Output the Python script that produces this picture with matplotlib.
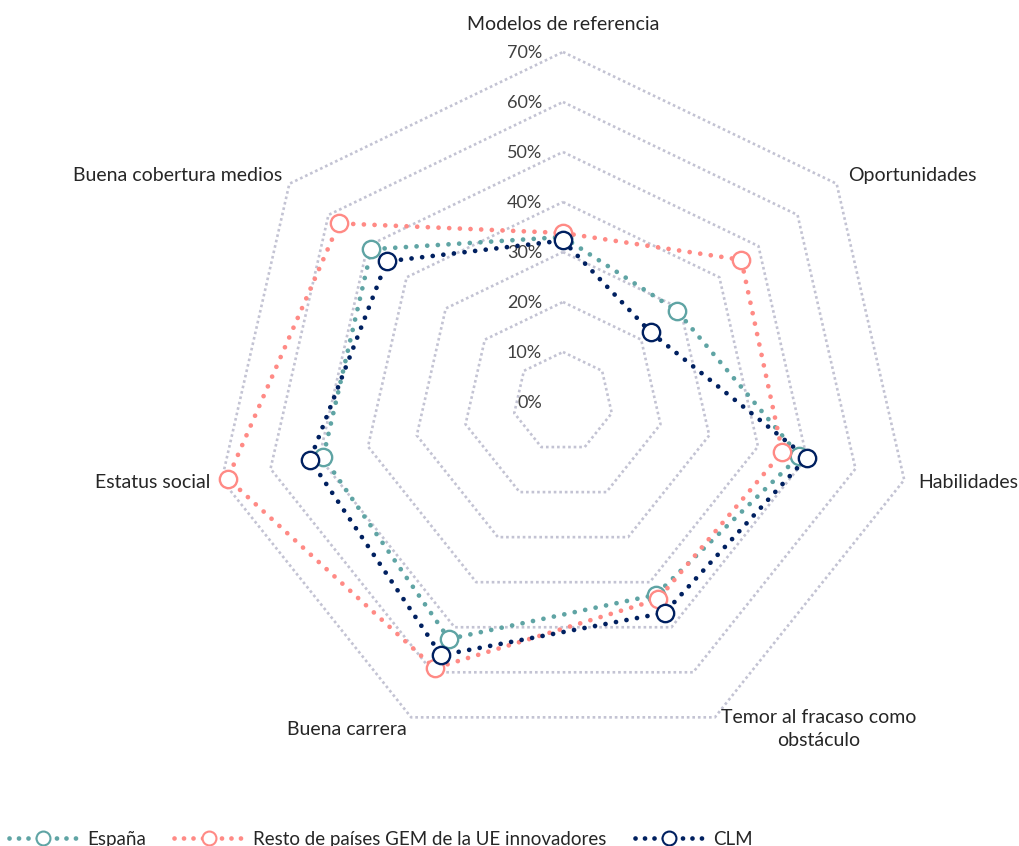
import numpy as np
import matplotlib.pyplot as plt

plt.rcParams['font.family'] = ['Lato', 'DejaVu Sans']

categories = ['Modelos de referencia', 'Oportunidades', 'Habilidades',
              'Temor al fracaso como\nobstáculo', 'Buena carrera',
              'Estatus social', 'Buena cobertura medios']
espana = [33.0, 29.2, 48.5, 42.8, 52.6, 49.2, 49.0]
resto = [33.8, 45.6, 45.0, 43.8, 59.1, 68.8, 57.3]
clm = [32.3, 22.4, 50.0, 46.8, 56.2, 51.9, 45.1]
ring_values = [10, 20, 30, 40, 50, 60, 70]
ring_labels = ['0%', '10%', '20%', '30%', '40%', '50%', '60%', '70%']

n = len(categories)
theta = np.arange(n) * 2 * np.pi / n

def xy(r):
    r = np.asarray(r, dtype=float)
    return r * np.sin(theta), r * np.cos(theta)

W, H = 1019, 846
fig = plt.figure(figsize=(W / 100, H / 100), dpi=100)
ax = fig.add_axes([0, 0, 1, 1])
cx, cy, s = 563, 444, 5.0  # centre in px from bottom-left, px per %
ax.set_xlim(-cx / s, (W - cx) / s)
ax.set_ylim(-cy / s, (H - cy) / s)
ax.axis('off')

grid_col = '#c3c3d3'
for rv in ring_values:
    gx, gy = xy([rv] * n)
    ax.plot(np.append(gx, gx[0]), np.append(gy, gy[0]), color=grid_col,
            lw=1.9, ls=(0, (1, 1.1)), zorder=1)

for i, lab in enumerate(ring_labels):
    ax.text(-4.2, i * 10 - 0.3, lab, ha='right', va='center', fontsize=13,
            color='#404040', zorder=2)

series = [('España', espana, '#5fa4a4'),
          ('Resto de países GEM de la UE innovadores', resto, '#ff8a85'),
          ('CLM', clm, '#002060')]
lw = 3.4
dots = (0, (0.01, 2.25))
handles = []
for name, vals, col in series:
    px, py = xy(vals)
    ax.plot(np.append(px, px[0]), np.append(py, py[0]), color=col, lw=lw,
            ls=dots, dash_capstyle='round', zorder=3)
    ax.plot(px, py, ls='none', color=col, marker='o', ms=12.5, mfc='white',
            mec=col, mew=1.7, zorder=4)
    lh, = ax.plot([], [], color=col, lw=lw, ls=(0, (0.01, 2.0)),
                  dash_capstyle='round', marker='o', ms=10, mfc='white',
                  mec=col, mew=1.5)
    handles.append((lh, name))

# category labels placed just outside the outer ring
offsets = [(0, 5.4, 'center', 'center'),
           (2.2, 1.6, 'left', 'center'),
           (2.8, -0.6, 'left', 'center'),
           (20.8, -2.4, 'center', 'center'),
           (-0.8, -2.4, 'right', 'center'),
           (-2.2, -0.6, 'right', 'center'),
           (-1.4, 1.6, 'right', 'center')]
ox, oy = xy([70] * n)
for i, lab in enumerate(categories):
    dx, dy, ha, va = offsets[i]
    ax.text(ox[i] + dx, oy[i] + dy, lab, ha=ha, va=va, fontsize=14,
            color='#262626', linespacing=1.45, multialignment='center')

fig.legend([h for h, _ in handles], [nm for _, nm in handles],
           loc='lower left', bbox_to_anchor=(-0.008, -0.022), ncol=3,
           frameon=False, fontsize=13.5, handlelength=3.7, numpoints=1,
           columnspacing=1.5, handletextpad=0.5, labelcolor='#262626')

fig.savefig('out.png', dpi=100)
